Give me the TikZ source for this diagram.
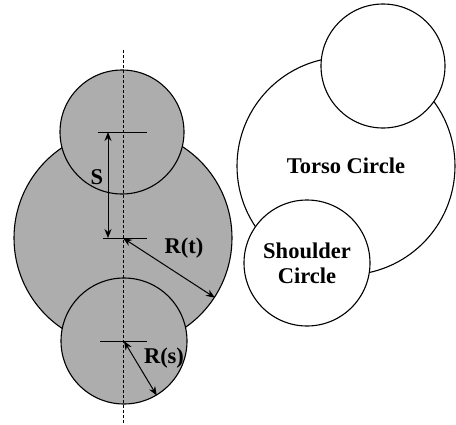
\documentclass[tikz,border=0pt]{standalone}
\usepackage{fontspec}
\setmainfont{Liberation Serif}
\usetikzlibrary{arrows.meta, positioning}
\colorlet{discGray}{black!32}

\begin{document}
\begin{tikzpicture}[x=1pt, y=-1pt,
  disc/.style={circle, draw, line width=1.1pt, inner sep=0pt, minimum size=#1},
  lbl/.style={font=\fontsize{22.5}{25}\selectfont\bfseries, inner sep=0pt},
  dim/.style={{Stealth[length=9pt,width=7pt]}-{Stealth[length=9pt,width=7pt]}, line width=1pt},
  tick/.style={line width=1pt},
  axis/.style={line width=0.6pt, dash pattern=on 3pt off 2pt},
]
  \useasboundingbox (0,0) rectangle (456,424);

  % left: shaded body
  \node[disc=218pt, fill=discGray] (torsoL) at (123,238) {};
  \node[disc=124pt, fill=discGray] (headL) at (122,132) {};
  \node[disc=126pt, fill=discGray] (shoulderL) at (124,341) {};

  \coordinate (axisTop) at (123,50);
  \coordinate (axisBot) at (123,424);
  \draw[axis] (axisTop) -- (axisBot);

  \draw[tick] ([xshift=-24pt]headL.center) -- ([xshift=25pt]headL.center);
  \draw[tick] ([xshift=-20pt]torsoL.center) -- ([xshift=24pt]torsoL.center);
  \draw[tick] ([xshift=-24pt]shoulderL.center) -- ([xshift=23pt]shoulderL.center);

  \draw[dim] ([xshift=-14pt]headL.center) -- ([xshift=-15pt]torsoL.center);
  \draw[dim] (torsoL.center) -- (torsoL.-33);
  \draw[dim] (shoulderL.center) -- (shoulderL.-59);

  \node[lbl] (sLabel) at (97,177) {S};
  \node[lbl] (rtLabel) at (184,248) {R(t)};
  \node[lbl] (rsLabel) at (164,358) {R(s)};

  % right: outline body
  \node[disc=218pt, fill=white, lbl, align=center] (torsoR) at (346,166) {Torso Circle};
  \node[disc=124pt, fill=white] (headR) at (383,66) {};
  \node[disc=126pt, fill=white, lbl, align=center] (shoulderR) at (307,263) {Shoulder\\Circle};
\end{tikzpicture}
\end{document}
